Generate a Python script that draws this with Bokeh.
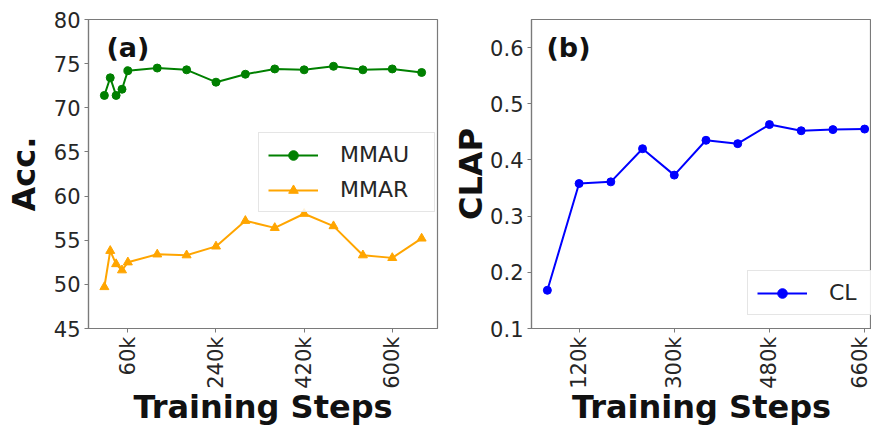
import math
from bokeh.plotting import figure
from bokeh.layouts import row
from bokeh.models import FixedTicker, Label
from bokeh.embed import file_html
from bokeh.resources import INLINE

# ---- data (training steps in thousands) ----
steps_a = [12, 24, 36, 48, 60, 120, 180, 240, 300, 360, 420, 480, 540, 600, 660]
mmau = [71.4, 73.4, 71.4, 72.1, 74.2, 74.5, 74.3, 72.9, 73.8, 74.4, 74.3, 74.7, 74.3, 74.4, 74.0]
mmar = [49.7, 53.8, 52.3, 51.6, 52.5, 53.4, 53.3, 54.3, 57.2, 56.4, 58.0, 56.6, 53.3, 53.0, 55.2]

steps_b = [60, 120, 180, 240, 300, 360, 420, 480, 540, 600, 660]
clap = [0.168, 0.358, 0.361, 0.420, 0.373, 0.435, 0.429, 0.463, 0.452, 0.454, 0.455]

ticks_a = [60, 240, 420, 600]
tick_labels_a = ["60k", "240k", "420k", "600k"]
yticks_a = [45, 50, 55, 60, 65, 70, 75, 80]

ticks_b = [120, 300, 480, 660]
tick_labels_b = ["120k", "300k", "480k", "660k"]
yticks_b = [0.1, 0.2, 0.3, 0.4, 0.5, 0.6]

FONT = "DejaVu Sans"
TXT = "#262626"
SPINE = "#7a7a7a"


def style(p, xticks, xlabels, yticks, ylabel, ystandoff):
    p.xgrid.visible = False
    p.ygrid.visible = False
    p.outline_line_color = SPINE
    p.outline_line_width = 1.2
    for ax in (p.xaxis[0], p.yaxis[0]):
        ax.axis_line_color = SPINE
        ax.axis_line_width = 1.2
        ax.major_tick_line_color = SPINE
        ax.major_tick_out = 4
        ax.major_tick_in = 0
        ax.minor_tick_line_color = None
        ax.major_label_text_font = FONT
        ax.major_label_text_font_size = "21px"
        ax.major_label_text_color = TXT
        ax.major_label_standoff = 4
        ax.axis_label_text_font = FONT
        ax.axis_label_text_font_style = "bold"
        ax.axis_label_text_font_size = "32px"
        ax.axis_label_text_color = "#111111"
    p.xaxis[0].ticker = FixedTicker(ticks=xticks)
    p.xaxis[0].major_label_overrides = {t: l for t, l in zip(xticks, xlabels)}
    p.xaxis[0].major_label_orientation = math.pi / 2
    p.xaxis[0].axis_label = "Training Steps"
    p.xaxis[0].axis_label_standoff = -4
    p.yaxis[0].ticker = FixedTicker(ticks=yticks)
    p.yaxis[0].axis_label = ylabel
    p.yaxis[0].axis_label_standoff = ystandoff


def style_legend(p):
    lg = p.legend[0]
    lg.label_text_font = FONT
    lg.label_text_font_size = "22px"
    lg.label_text_color = TXT
    lg.glyph_width = 50
    lg.glyph_height = 24
    lg.label_standoff = 22
    lg.padding = 9
    lg.spacing = 10
    lg.margin = 0
    lg.border_line_color = "#cccccc"
    lg.border_line_width = 1
    lg.background_fill_alpha = 0.85


# ---- panel (a) ----
p1 = figure(width=448, height=428, output_backend="svg", toolbar_location=None,
            x_range=(-20.4, 692.4), y_range=(45, 80),
            min_border_left=88, min_border_right=11, min_border_top=19, min_border_bottom=98)
p1.line(steps_a, mmau, line_color="green", line_width=2, legend_label="MMAU")
p1.scatter(steps_a, mmau, marker="circle", size=8, fill_color="green", line_color="green",
           legend_label="MMAU")
p1.line(steps_a, mmar, line_color="orange", line_width=2, legend_label="MMAR")
p1.scatter(steps_a, mmar, marker="triangle", size=9, fill_color="orange", line_color="orange",
           legend_label="MMAR")
style(p1, ticks_a, tick_labels_a, yticks_a, "Acc.", 8)
style_legend(p1)
p1.legend[0].location = (170, 116)
p1.legend[0].label_width = 85
p1.add_layout(Label(x=18, y=281, x_units="screen", y_units="screen", text="(a)",
                    text_font=FONT, text_font_style="bold", text_font_size="27px",
                    text_color="#111111", text_baseline="alphabetic"))

# ---- panel (b) ----
p2 = figure(width=423, height=428, output_backend="svg", toolbar_location=None,
            x_range=(30, 673), y_range=(0.1, 0.65),
            min_border_left=83, min_border_right=0, min_border_top=19, min_border_bottom=98)
p2.line(steps_b, clap, line_color="blue", line_width=2, legend_label="CL")
p2.scatter(steps_b, clap, marker="circle", size=8, fill_color="blue", line_color="blue",
           legend_label="CL")
style(p2, ticks_b, tick_labels_b, yticks_b, "CLAP", -3)
style_legend(p2)
p2.legend[0].location = (216, 13)
p2.legend[0].label_width = 36
p2.add_layout(Label(x=15, y=281, x_units="screen", y_units="screen", text="(b)",
                    text_font=FONT, text_font_style="bold", text_font_size="27px",
                    text_color="#111111", text_baseline="alphabetic"))

layout = row(p1, p2)
open("out.html", "w").write(file_html(layout, INLINE))
